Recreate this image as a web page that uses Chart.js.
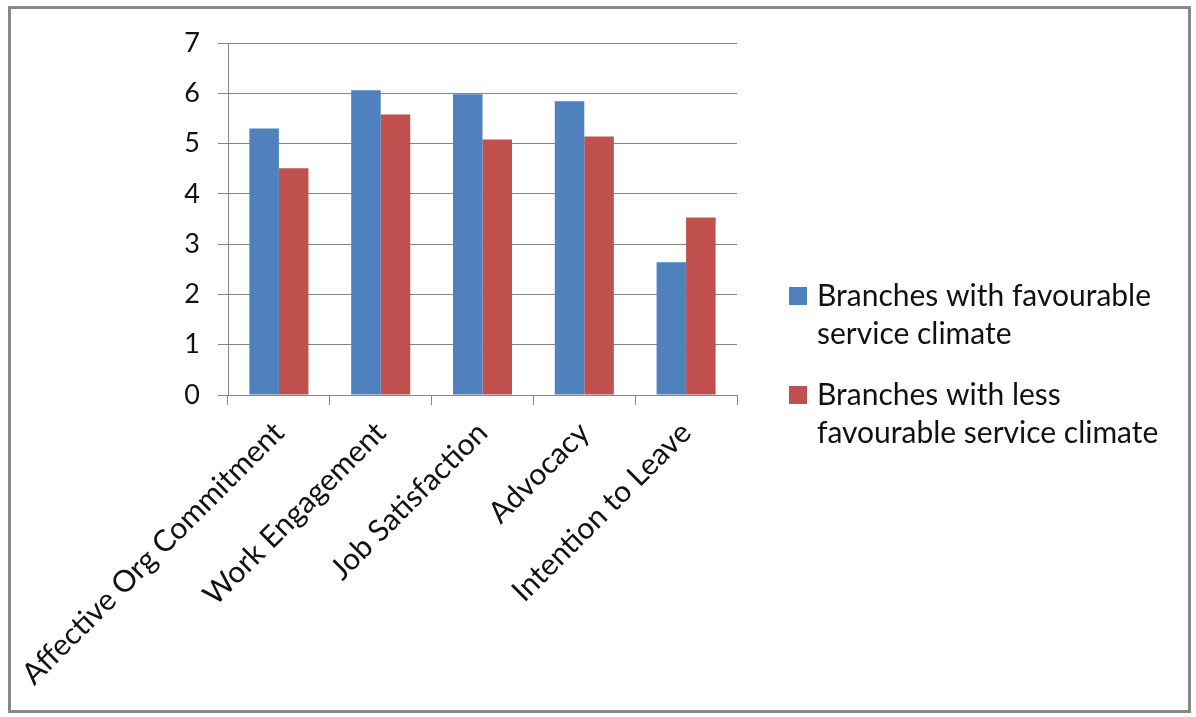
<!DOCTYPE html>
<html>
<head>
<meta charset="utf-8">
<script src="https://cdn.jsdelivr.net/npm/chart.js@4.4.1/dist/chart.umd.min.js"></script>
<style>
  html, body { margin: 0; padding: 0; background: #fff; }
  #wrap { width: 1196px; height: 717px; position: relative; }
</style>
</head>
<body>
<div id="wrap"><canvas id="chart" width="1196" height="717"></canvas></div>
<script>
const categories = [
  'Affective Org Commitment',
  'Work Engagement',
  'Job Satisfaction',
  'Advocacy',
  'Intention to Leave'
];
const favourable = [5.3, 6.06, 5.98, 5.84, 2.64];
const lessFavourable = [4.51, 5.58, 5.08, 5.14, 3.53];
const seriesNames = [
  ['Branches with favourable', 'service climate'],
  ['Branches with less', 'favourable service climate']
];
const yTicks = [0, 1, 2, 3, 4, 5, 6, 7];

const FONT = 'Lato, "Open Sans", sans-serif';
const GRID = '#868686';

// outer frame + two-line legend on the right
const framePlugin = {
  id: 'frame',
  afterDraw(chart) {
    const ctx = chart.ctx;
    ctx.save();
    ctx.strokeStyle = '#888';
    ctx.lineWidth = 3;
    ctx.strokeRect(9.5, 7.5, 1180, 704);

    ctx.font = '30px ' + FONT;
    ctx.textBaseline = 'middle';
    const tops = [296, 395];
    chart.data.datasets.forEach((ds, i) => {
      const y = tops[i];
      ctx.fillStyle = ds.backgroundColor;
      ctx.fillRect(789, y - 9, 18, 18);
      ctx.fillStyle = '#111';
      ds.label.forEach((line, j) => {
        ctx.fillText(line, 817, y + j * 38);
      });
    });
    ctx.restore();
  }
};

new Chart(document.getElementById('chart'), {
  type: 'bar',
  data: {
    labels: categories,
    datasets: [
      { label: seriesNames[0], data: favourable, backgroundColor: '#4F81BD' },
      { label: seriesNames[1], data: lessFavourable, backgroundColor: '#C0504D' }
    ]
  },
  options: {
    responsive: false,
    animation: false,
    layout: { padding: { top: 43, right: 459, left: 0, bottom: 0 } },
    datasets: { bar: { categoryPercentage: 0.58, barPercentage: 1.0 } },
    plugins: { legend: { display: false }, tooltip: { enabled: false } },
    scales: {
      x: {
        grid: { drawOnChartArea: false, offset: true, color: GRID, tickLength: 10 },
        border: { color: GRID },
        ticks: {
          color: '#111',
          font: { size: 30, family: FONT },
          maxRotation: 45,
          minRotation: 45,
          padding: 10
        },
        afterFit(scale) {
          scale.height = 717 - 395;
          scale.paddingLeft = 0;
          scale.paddingRight = 0;
        }
      },
      y: {
        min: 0,
        max: 7,
        afterBuildTicks(scale) {
          scale.ticks = yTicks.map(v => ({ value: v }));
        },
        grid: { color: GRID, tickLength: 10 },
        border: { color: GRID },
        ticks: {
          color: '#111',
          font: { size: 27, family: FONT },
          padding: 18
        },
        afterFit(scale) {
          scale.width = 228;
          scale.paddingTop = 0;
          scale.paddingBottom = 0;
        }
      }
    }
  },
  plugins: [framePlugin]
});
</script>
</body>
</html>
